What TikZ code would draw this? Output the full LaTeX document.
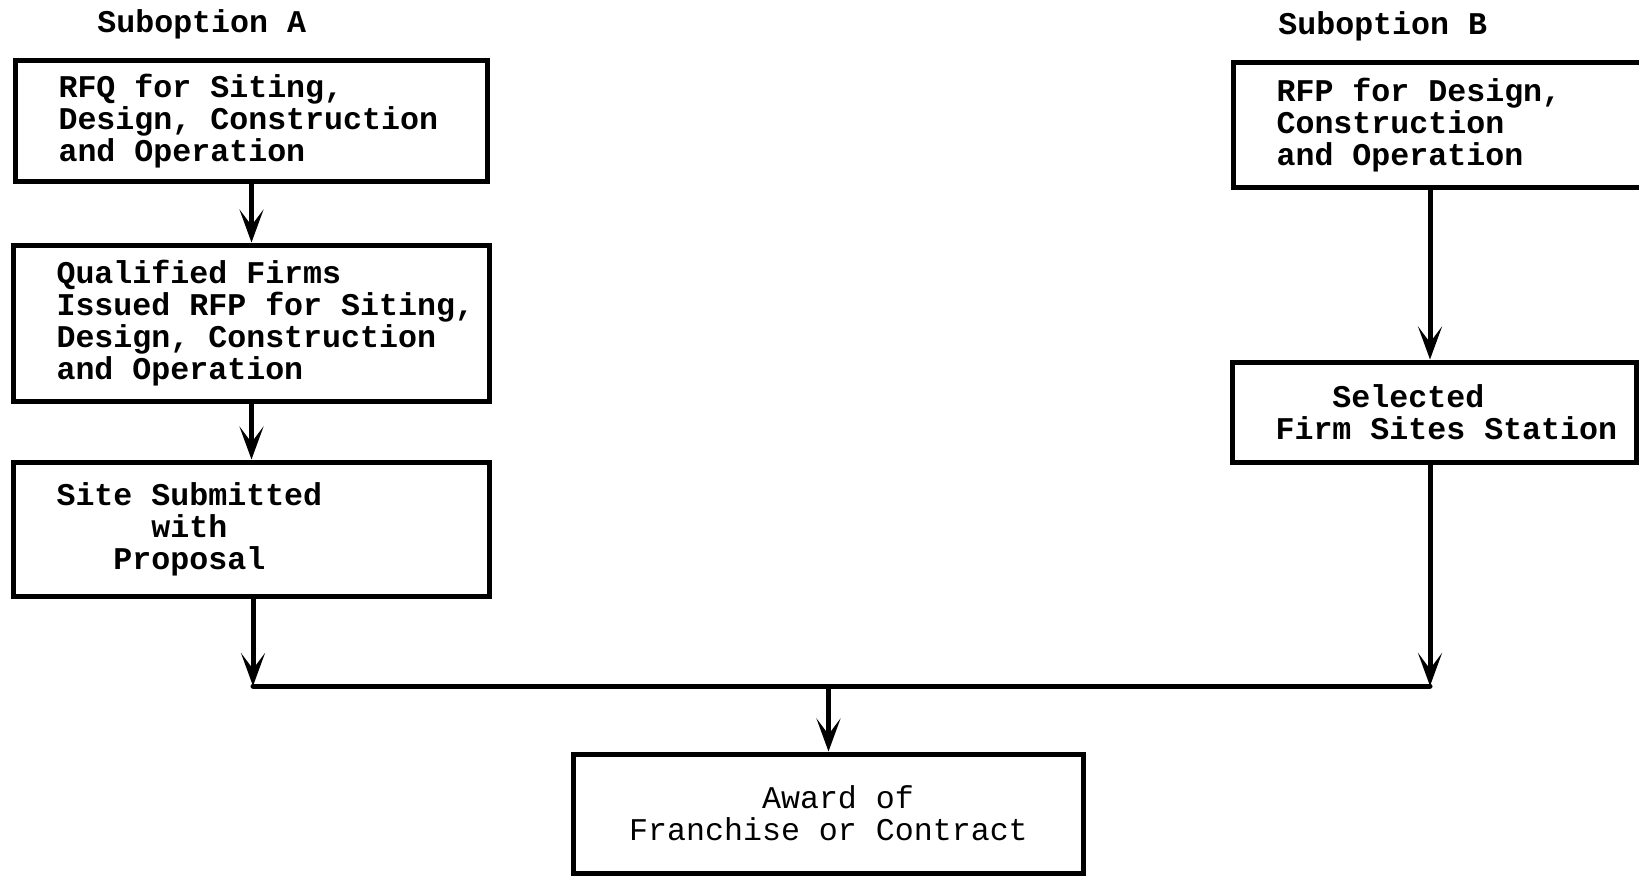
\documentclass[tikz,border=0pt]{standalone}
\usepackage{fontspec}
\setmonofont{Liberation Mono}[WordSpace={1,0,0}]
\usetikzlibrary{arrows.meta,positioning}
\newcommand{\boxfont}{\ttfamily\bfseries\fontsize{18}{18.2}\selectfont}
\newcommand{\awardfont}{\ttfamily\fontsize{18}{18.2}\selectfont}
\newcommand{\fixspace}{\spaceskip=0.6em\relax\xspaceskip=0.6em\relax}
\tikzset{
  box/.style={draw, rectangle, line width=0.1cm, align=left, inner xsep=0.87cm, inner ysep=0pt, font=\boxfont,
    execute at begin node=\fixspace},
  arr/.style={line width=0.1cm, -{Stealth[length=0.66cm,width=0.48cm,inset=0.32cm]}},
  bus/.style={line width=0.1cm, line cap=round},
  head/.style={font=\boxfont, anchor=base west, inner sep=0pt},
}

\begin{document}
\begin{tikzpicture}[x=0.02cm, y=-0.02cm]
  \useasboundingbox (0,0) rectangle (1639,876);
  % suboption A
  \node[head] (hA) at (97,32) {Suboption A};
  \node[box, minimum width=9.46cm, minimum height=2.44cm, text width=7.72cm] (rfq) at (251.5,121)
    {RFQ for Siting,\\Design, Construction\\and Operation};
  \node[box, minimum width=9.54cm, minimum height=3.14cm, text width=7.80cm] (firms) at (251.5,323.5)
    {Qualified Firms\\\mbox{Issued RFP for Siting,}\\Design, Construction\\and Operation};
  \node[box, minimum width=9.54cm, minimum height=2.70cm, text width=7.80cm] (site) at (251.5,529.5)
    {Site Submitted\\\phantom{00000}with\\\phantom{000}Proposal};
  % suboption B
  \node[head] (hB) at (1278,34) {Suboption B};
  \node[box, minimum width=8.24cm, minimum height=2.52cm, text width=6.50cm] (rfp) at (1439,125)
    {RFP for Design,\\Construction\\and Operation};
  \node[box, minimum width=8.10cm, minimum height=2.02cm, text width=6.36cm] (sel) at (1434.5,412.5)
    {\phantom{000}Selected\\\mbox{Firm Sites Station}};
  % result
  \node[box, align=center, font=\awardfont, inner xsep=0pt, minimum width=10.22cm, minimum height=2.38cm] (award) at (828.5,813.5)
    {\phantom{0}Award of\\Franchise or Contract};

  \coordinate (bx) at (1430,0);
  \coordinate (jl) at (253,686);
  \coordinate (jr) at (bx |- jl);

  \draw[arr] (rfq) -- (firms);
  \draw[arr] (firms) -- (site);
  \draw[arr] (rfp.south -| bx) -- (sel.north -| bx);
  \draw[arr] (site.south -| jl) -- (jl);
  \draw[arr] (sel.south -| bx) -- (jr);
  \draw[bus] (jl) -- (jr);
  \draw[arr] (award.north |- jl) -- (award);
\end{tikzpicture}
\end{document}
